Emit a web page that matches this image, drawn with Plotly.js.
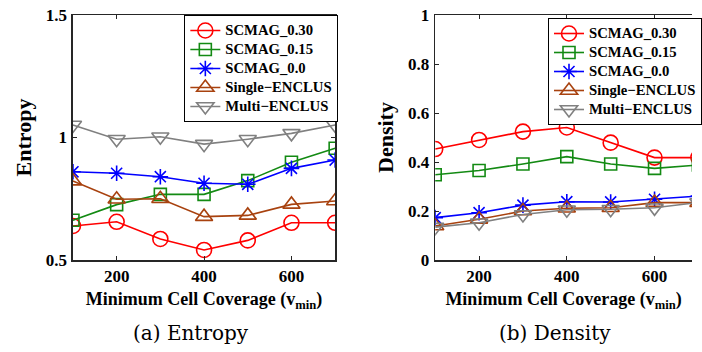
<!DOCTYPE html>
<html>
<head>
<meta charset="utf-8">
<script src="https://cdn.plot.ly/plotly-3.0.1.min.js"></script>
<style>html,body{margin:0;padding:0;background:#fff;overflow:hidden;}#chart{width:702px;height:352px;}</style>
</head>
<body>
<div id="chart"></div>
<script>
// Data
const vmin = [100, 200, 300, 400, 500, 600, 700];
const seriesNames = ["SCMAG_0.30", "SCMAG_0.15", "SCMAG_0.0", "Single\u2212ENCLUS", "Multi\u2212ENCLUS"];

const entropy_scmag030 = [0.639, 0.656, 0.586, 0.541, 0.580, 0.652, 0.652];
const entropy_scmag015 = [0.662, 0.726, 0.768, 0.768, 0.824, 0.899, 0.956];
const entropy_scmag00  = [0.860, 0.854, 0.840, 0.813, 0.809, 0.874, 0.908];
const entropy_single   = [0.822, 0.748, 0.750, 0.677, 0.682, 0.727, 0.741];
const entropy_multi    = [1.051, 0.993, 1.003, 0.973, 0.993, 1.017, 1.051];

const density_scmag030 = [0.453, 0.490, 0.524, 0.541, 0.479, 0.418, 0.418];
const density_scmag015 = [0.348, 0.365, 0.392, 0.422, 0.392, 0.374, 0.388];
const density_scmag00  = [0.173, 0.193, 0.224, 0.238, 0.237, 0.248, 0.261];
const density_single   = [0.139, 0.166, 0.200, 0.211, 0.213, 0.234, 0.234];
const density_multi    = [0.134, 0.152, 0.186, 0.205, 0.207, 0.213, 0.235];

const xTicks = [200, 400, 600];
const entropyTicks = [0.5, 1, 1.5];
const densityTicks = [0, 0.2, 0.4, 0.6, 0.8, 1];

const styles = [
  {color: "#ff0000", symbol: "circle-open", size: 15},
  {color: "#138a13", symbol: "square-open", size: 12},
  {color: "#0000ff", symbol: "asterisk-open", size: 13},
  {color: "#a8420f", symbol: "triangle-up-open", size: 15},
  {color: "#808080", symbol: "triangle-down-open", size: 15}
];

const entropySets = [entropy_scmag030, entropy_scmag015, entropy_scmag00, entropy_single, entropy_multi];
const densitySets = [density_scmag030, density_scmag015, density_scmag00, density_single, density_multi];

const traces = [];
function addSet(sets, xa, ya, leg) {
  sets.forEach((ys, i) => {
    const s = styles[i];
    traces.push({
      x: vmin, y: ys, xaxis: xa, yaxis: ya, type: "scatter", mode: "lines+markers",
      name: '<span style="font-size:14.7px">' + seriesNames[i] + '</span>', legend: leg,
      line: {color: s.color, width: 1.6},
      marker: {color: s.color, symbol: s.symbol, size: s.size, line: {color: s.color, width: 1.6}}
    });
  });
}
addSet(entropySets, "x", "y", "legend");
addSet(densitySets, "x2", "y2", "legend2");

const W = 702, H = 352;
const serif = "'Liberation Serif', 'Times New Roman', serif";
const capSerif = "'DejaVu Serif', serif";
const tickFont = {family: serif, size: 17, color: "#000", weight: "bold"};
const yDom = [(H - 260) / H, (H - 15) / H];

function xAxis(domain, range, anchor) {
  return {
    domain: domain, range: range, anchor: anchor,
    tickvals: xTicks, ticks: "inside", ticklen: 4, tickwidth: 1, tickcolor: "#262626",
    showline: true, linecolor: "#262626", linewidth: 1.5, mirror: "ticks",
    showgrid: false, zeroline: false,
    tickfont: tickFont, ticklabelstandoff: 0,
    title: {text: "Minimum Cell Coverage (v<sub>min</sub>)",
            font: {family: serif, size: 18, color: "#000", weight: "bold"}, standoff: 7}
  };
}
function yAxis(range, ticks, title, anchor, mirror) {
  return {
    domain: yDom, range: range, anchor: anchor,
    tickvals: ticks,
    ticks: "inside", ticklen: 4, tickwidth: 1, tickcolor: "#262626",
    showline: true, linecolor: "#262626", linewidth: 1.5, mirror: mirror,
    showgrid: false, zeroline: false,
    tickfont: tickFont, ticklabelstandoff: 1,
    title: {text: title, font: {family: serif, size: 22, color: "#000", weight: "bold"}, standoff: 8}
  };
}

const legendBase = () => ({
  bgcolor: "#ffffff", bordercolor: "#000000", borderwidth: 1,
  font: {family: serif, size: 12.2, color: "#000", weight: "bold"},
  xanchor: "left", yanchor: "top", tracegroupgap: 0, itemwidth: 30
});

const layout = {
  width: W, height: H,
  margin: {l: 0, r: 0, t: 0, b: 0},
  paper_bgcolor: "#ffffff", plot_bgcolor: "#ffffff",
  showlegend: true,
  xaxis: xAxis([74 / W, 340 / W], [100, 700], "y"),
  yaxis: yAxis([0.5, 1.5], entropyTicks, "Entropy", "x", "ticks"),
  xaxis2: xAxis([441.5 / W, 1], [100, 685.4], "y2"),
  yaxis2: yAxis([0, 1], densityTicks, "Density", "x2", false),
  legend: Object.assign(legendBase(), {x: 187 / W, y: (H - 15) / H}),
  legend2: Object.assign(legendBase(), {x: 556 / W, y: (H - 18) / H}),
  annotations: [
    {text: "(a) Entropy", xref: "paper", yref: "paper", x: 194 / W, y: (H - 333) / H,
     xanchor: "center", yanchor: "middle", showarrow: false,
     font: {family: capSerif, size: 20, color: "#000"}},
    {text: "(b) Density", xref: "paper", yref: "paper", x: 563 / W, y: (H - 333) / H,
     xanchor: "center", yanchor: "middle", showarrow: false,
     font: {family: capSerif, size: 20, color: "#000"}}
  ]
};

Plotly.newPlot("chart", traces, layout, {displayModeBar: false, staticPlot: true});
</script>
</body>
</html>
